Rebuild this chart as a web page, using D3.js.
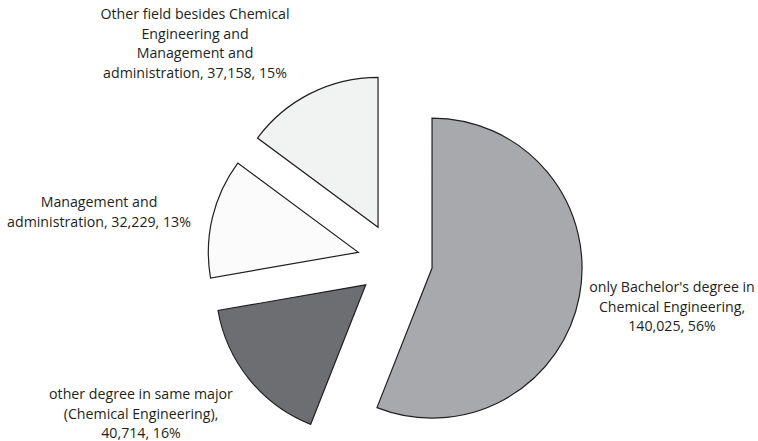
<!DOCTYPE html>
<html>
<head>
<meta charset="utf-8">
<script src="https://cdn.jsdelivr.net/npm/d3@7"></script>
<style>
  body { margin: 0; background: #fff; }
  svg { display: block; }
  .label { font-family: "Open Sans", sans-serif; font-size: 14.2px; fill: #231f20; }
</style>
</head>
<body>
<div id="chart"></div>
<script>
// categories (line breaks as in the original labels)
var categories = [
    "only Bachelor's degree in\nChemical Engineering",
    "other degree in same major\n(Chemical Engineering)",
    "Management and\nadministration",
    "Other field besides Chemical\nEngineering and\nManagement and\nadministration"
];
var values = [140025, 40714, 32229, 37158];

// layout
var colors = ["#a7a9ac", "#6d6e71", "#fbfbfb", "#f1f2f2"];
var valueOnNewLine = [true, true, false, false];
// label first-baseline anchor, relative to pie centre
var labelOffsets = [[277, 31], [-254, 138], [-296, -54], [-200, -242]];

var width = 758, height = 441;
var cx = 395, cy = 261;
var radius = 150;
var explode = 37.7;
var lineHeight = 19.5;

var svg = d3.select("#chart").append("svg")
    .attr("width", width)
    .attr("height", height);

var total = d3.sum(values);
var fmt = d3.format(",");

var pie = d3.pie().sort(null).value(function(d) { return d; });
var arc = d3.arc().innerRadius(0).outerRadius(radius);

var arcs = pie(values);

var g = svg.append("g").attr("transform", "translate(" + cx + "," + cy + ")");

g.selectAll(".slice")
    .data(arcs)
  .enter().append("path")
    .attr("class", "slice")
    .attr("d", arc)
    .attr("transform", function(d) {
        var a = (d.startAngle + d.endAngle) / 2;
        return "translate(" + (Math.sin(a) * explode) + "," + (-Math.cos(a) * explode) + ")";
    })
    .style("fill", function(d, i) { return colors[i]; })
    .style("stroke", "#231f20")
    .style("stroke-width", 1.2)
    .style("stroke-linejoin", "miter");

// labels
arcs.forEach(function(d, i) {
    var pct = Math.round(d.value / total * 100);
    var text = categories[i] + "," + (valueOnNewLine[i] ? "\n" : " ") + fmt(d.value) + ", " + pct + "%";
    var lines = text.split("\n");
    var t = g.append("text")
        .attr("class", "label")
        .attr("text-anchor", "middle")
        .attr("x", labelOffsets[i][0])
        .attr("y", labelOffsets[i][1]);
    lines.forEach(function(line, j) {
        t.append("tspan")
            .attr("x", labelOffsets[i][0])
            .attr("y", labelOffsets[i][1] + j * lineHeight)
            .text(line);
    });
});
</script>
</body>
</html>
